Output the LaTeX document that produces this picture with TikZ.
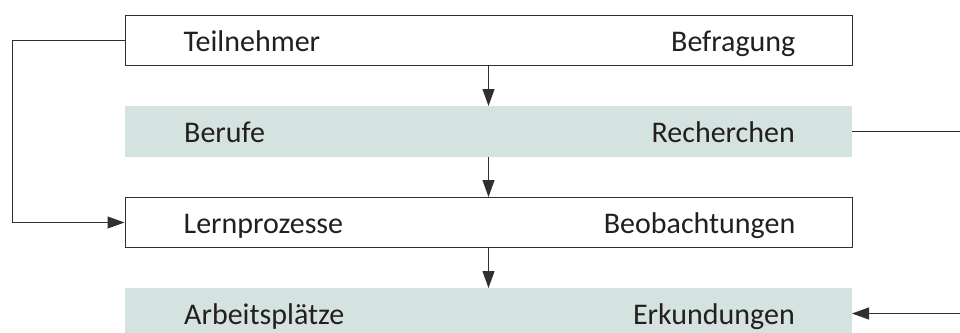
\documentclass[tikz,border=0pt]{standalone}
\usepackage{fontspec}
\setmainfont{Carlito}
\usetikzlibrary{positioning,arrows.meta}
\definecolor{boxgruen}{HTML}{D5E3E0}
\definecolor{liniengrau}{HTML}{303030}
\definecolor{textschwarz}{HTML}{231F20}

\begin{document}
\begin{tikzpicture}[x=1pt,y=-1pt,font=\fontsize{30}{36}\selectfont,text=textschwarz,
  kasten/.style={draw=liniengrau,line width=1pt,fill=white,minimum width=727pt,minimum height=50pt,inner sep=0pt},
  grau/.style={fill=boxgruen,minimum width=727pt,minimum height=51pt,inner sep=0pt,outer sep=0pt},
  links/.style={anchor=base west,inner sep=0pt},
  rechts/.style={anchor=base east,inner sep=0pt},
  linie/.style={draw=liniengrau,line width=1.1pt},
  pfeil/.style={linie,-{Triangle[length=17pt,width=12pt]}}]
\path[use as bounding box,clip] (0,0) rectangle (960,332);
% vier Stufen
\node[kasten] (teilnehmer) at (488.5,40.5) {};
\node[grau,below=40pt of teilnehmer] (berufe) {};
\node[kasten,below=40pt of berufe] (lernprozesse) {};
\node[grau,below=40pt of lernprozesse] (arbeitsplaetze) {};
% Beschriftungen
\node[links] (teilnehmer-l) at ([shift={(59,10.5)}]teilnehmer.west) {Teilnehmer};
\node[rechts] (teilnehmer-r) at ([shift={(-57,10.5)}]teilnehmer.east) {Befragung};
\node[links] (berufe-l) at ([shift={(59,10.5)}]berufe.west) {Berufe};
\node[rechts] (berufe-r) at ([shift={(-57,10.5)}]berufe.east) {Recherchen};
\node[links] (lernprozesse-l) at ([shift={(59,10.5)}]lernprozesse.west) {Lernprozesse};
\node[rechts] (lernprozesse-r) at ([shift={(-57,10.5)}]lernprozesse.east) {Beobachtungen};
\node[links] (arbeitsplaetze-l) at ([shift={(59,10.5)}]arbeitsplaetze.west) {Arbeitspl\"atze};
\node[rechts] (arbeitsplaetze-r) at ([shift={(-57,10.5)}]arbeitsplaetze.east) {Erkundungen};
% Pfeile
\draw[pfeil] (teilnehmer) -- (berufe);
\draw[pfeil] (berufe) -- (lernprozesse);
\draw[pfeil] (lernprozesse) -- (arbeitsplaetze);
\draw[pfeil] (teilnehmer.west) -- ++(-112,0) |- (lernprozesse.west);
\coordinate (rand-oben) at (960,131.5);
\coordinate (rand-unten) at (960,313.5);
\draw[linie] (berufe.east) -- (rand-oben);
\draw[pfeil] (rand-unten) -- (arbeitsplaetze.east);
\end{tikzpicture}
\end{document}
